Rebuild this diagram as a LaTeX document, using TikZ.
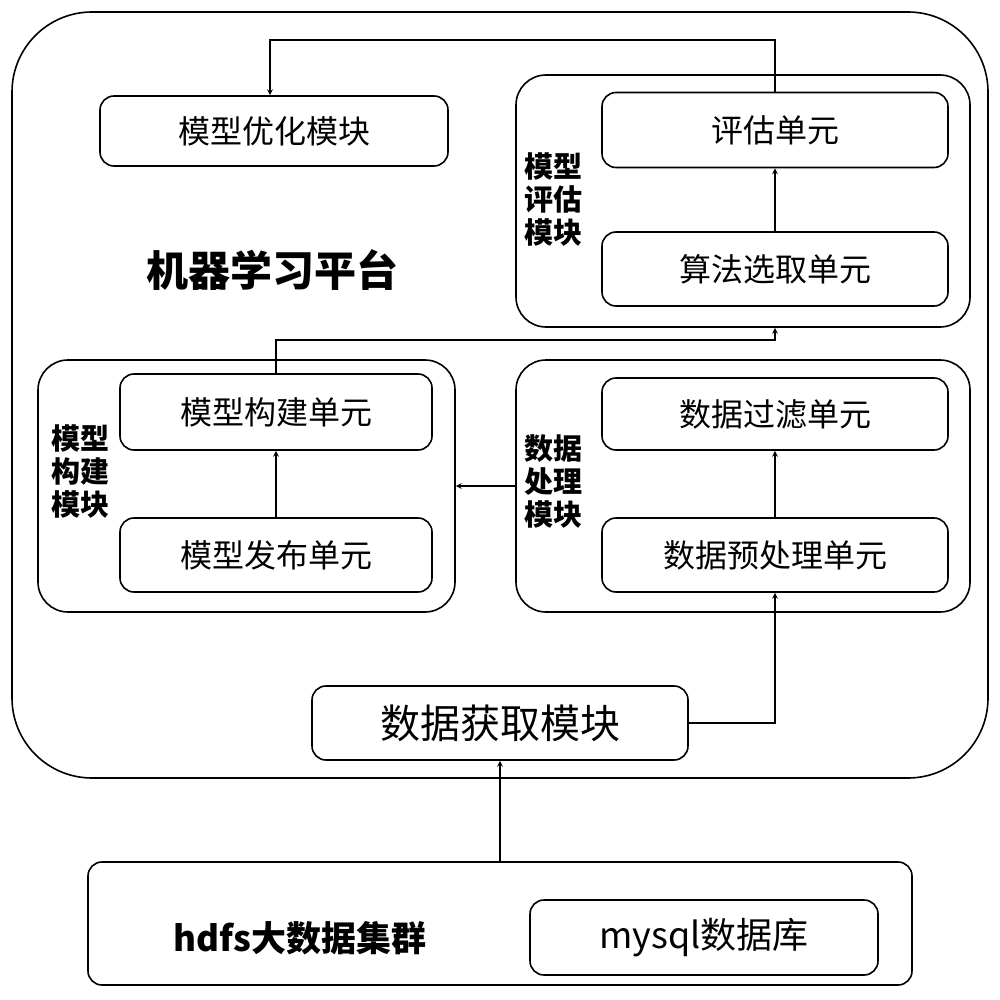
\documentclass[tikz,border=0pt]{standalone}
\usepackage{fontspec}
\setmainfont{Noto Sans CJK SC}
\usetikzlibrary{positioning}
\tikzset{
  box/.style={draw, line width=1.6pt, rounded corners=14pt, inner sep=0pt},
  outerbox/.style={draw, line width=1.6pt, rounded corners=30pt, inner sep=0pt},
  arr/.style={->, line width=1.6pt, >=stealth},
  unit/.style={font=\fontsize{32}{32}\selectfont},
  side/.style={font=\fontsize{29}{33}\selectfont\bfseries, align=center}
}
\begin{document}
\begin{tikzpicture}[x=1pt,y=-1pt]
    \useasboundingbox (0,0) rectangle (999,1000);
    % platform
    \draw [line width=1.6pt, rounded corners=80pt] (12,12) rectangle (988,778);
    \node (title) at (272,270) {\fontsize{42}{42}\selectfont\bfseries 机器学习平台};

    \node (opt) [box, minimum width=348pt, minimum height=70pt, unit] at (274,131) {模型优化模块};

    % evaluation module
    \node (evalm) [outerbox, minimum width=454pt, minimum height=252pt] at (743,201) {};
    \node (evall) [side] at (553,200) {模型\\评估\\模块};
    \node (evalu) [box, minimum width=346pt, minimum height=75pt, unit] at (775,130) {评估单元};
    \node (algo) [box, minimum width=346pt, minimum height=74pt, unit] at (775,269) {算法选取单元};

    % construction module
    \node (buildm) [outerbox, minimum width=417pt, minimum height=252pt] at (246.5,486) {};
    \node (buildl) [side] at (80,472) {模型\\构建\\模块};
    \node (build) [box, minimum width=312pt, minimum height=76pt, unit] at (276,412) {模型构建单元};
    \node (pub) [box, minimum width=312pt, minimum height=74pt, unit] at (276,555) {模型发布单元};

    % processing module
    \node (procm) [outerbox, minimum width=454pt, minimum height=252pt] at (743,486) {};
    \node (procl) [side] at (553,482) {数据\\处理\\模块};
    \node (filt) [box, minimum width=346pt, minimum height=72pt, unit] at (775,414) {数据过滤单元};
    \node (pre) [box, minimum width=346pt, minimum height=74pt, unit] at (775,555) {数据预处理单元};

    \node (fetch) [box, minimum width=376pt, minimum height=74pt, font=\fontsize{40}{40}\selectfont] at (500,723) {数据获取模块};

    % data sources
    \node (src) [box, minimum width=824pt, minimum height=123pt] at (500,923.5) {};
    \node (hdfs) at (300,938) {\fontsize{35}{35}\selectfont\bfseries hdfs大数据集群};
    \node (mysql) [box, minimum width=348pt, minimum height=75pt, font=\fontsize{36}{36}\selectfont] at (704,937.5) {mysql数据库};

    % arrows
    \draw [arr] (evalu.north) |- (270,40) -- (opt.north -| 270,0);
    \draw [arr] (algo) -- (evalu);
    \draw [arr] (build.north) |- (775,340) -- (evalm.south -| 775,0);
    \draw [arr] (procm.west) -- (buildm.east);
    \draw [arr] (pub) -- (build);
    \draw [arr] (pre) -- (filt);
    \draw [arr] (fetch.east) -| (pre.south);
    \draw [arr] (src.north) -- (fetch.south);
\end{tikzpicture}
\end{document}
